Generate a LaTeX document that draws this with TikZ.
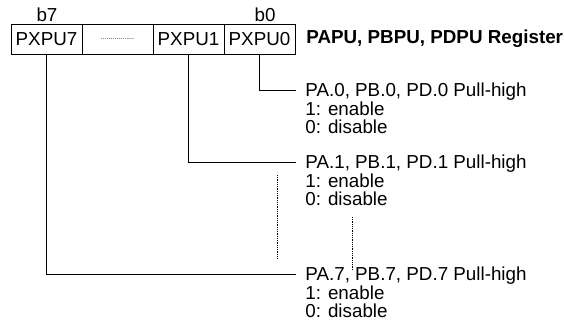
\documentclass[tikz,border=0pt]{standalone}
\usepackage{fontspec}
\setmainfont{Liberation Sans}
\usetikzlibrary{positioning}

\begin{document}
\begin{tikzpicture}[x=1pt,y=-1pt,line width=0.8pt,
  every node/.style={font=\fontsize{18.8}{18}\selectfont},
  bitcell/.style={draw,minimum width=71pt,minimum height=30pt,inner sep=0pt,outer sep=0pt},
  pinhead/.style={anchor=west,inner xsep=9pt,inner ysep=0pt,text height=13.5pt,text depth=0pt},
  pinstate/.style={align=left,inner xsep=9pt,inner ysep=0pt},
  gapline/.style={line width=0.6pt,dash pattern=on 0.7pt off 1.1pt}]
\useasboundingbox (0,0) rectangle (564,324);
\node[bitcell](p7) at (46.5,39){PXPU7};
\node[bitcell,right=0pt of p7](pdots){\fontsize{7}{8}\selectfont .................};
\node[bitcell,right=0pt of pdots](p1){PXPU1};
\node[bitcell,right=0pt of p1](p0){PXPU0};
\node(b7) at (47,15){b7};
\node(b0) at (265,15){b0};
\node[anchor=west,inner xsep=11pt,font=\fontsize{18.8}{18}\selectfont\bfseries](reg) at (p0.east){PAPU, PBPU, PDPU Register};
% bit 0
\node[pinhead](t0) at (296,90){PA.0, PB.0, PD.0 Pull-high};
\node[pinstate,below right=4.5pt and 0pt of t0.south west](e0){1: enable\\0: disable};
\draw (p0.south) |- (t0.west);
% bit 1
\node[pinhead](t1) at (296,162){PA.1, PB.1, PD.1 Pull-high};
\node[pinstate,below right=4.5pt and 0pt of t1.south west](e1){1: enable\\0: disable};
\draw (p1.south) |- (t1.west);
% bit 7
\node[pinhead](t7) at (296,274){PA.7, PB.7, PD.7 Pull-high};
\node[pinstate,below right=4.5pt and 0pt of t7.south west](e7){1: enable\\0: disable};
\draw (p7.south) |- (t7.west);
\draw[gapline] (277,175) -- (277,258);
\draw[gapline] (352,217) -- (352,270);
\end{tikzpicture}
\end{document}
